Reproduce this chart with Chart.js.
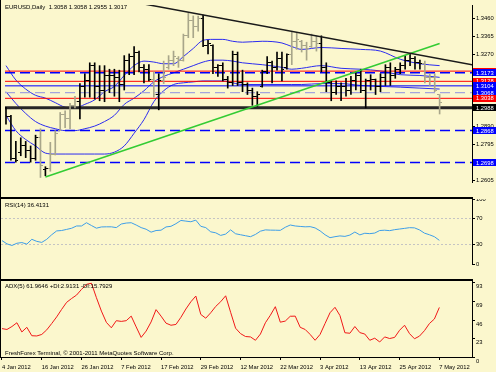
<!DOCTYPE html>
<html>
<head>
<meta charset="utf-8">
<script src="https://cdn.jsdelivr.net/npm/chart.js@4.4.1/dist/chart.umd.min.js"></script>
<style>
html, body { margin: 0; padding: 0; background: #fbf7cd; }
#wrap { position: relative; width: 496px; height: 372px; background: #fbf7cd; overflow: hidden; font-family: "Liberation Sans", Arial, sans-serif; }
canvas { position: absolute; left: 0; }
.t { position: absolute; font-size: 6px; line-height: 6px; color: #000; white-space: pre; }
.ln { position: absolute; background: #000; }
</style>
</head>
<body>
<div id="wrap">
  <canvas id="price" width="496" height="197" style="top:0"></canvas>
  <canvas id="rsi" width="496" height="80" style="top:199px"></canvas>
  <canvas id="adx" width="496" height="91" style="top:281px"></canvas>
  <div class="ln" style="left:0;top:0;width:1px;height:358px"></div>
  <div class="ln" style="left:0;top:197px;width:473px;height:2px"></div>
  <div class="ln" style="left:0;top:279px;width:473px;height:2px"></div>
  <div class="t" style="left:5px;top:4px">EURUSD,Daily  1.3058 1.3058 1.2955 1.3017</div>
  <div class="t" style="left:5px;top:202px">RSI(14) 36.4131</div>
  <div class="t" style="left:5px;top:283px">ADX(5) 61.9646 +DI:2.9131 -DI:15.7929</div>
  <div class="t" style="left:5px;top:350px">FreshForex Terminal, © 2001-2011 MetaQuotes Software Corp.</div>
</div>
<script>
// daily bars, 4 Jan 2012 .. 7 May 2012
const opens = [1.2985,1.2940,1.2720,1.2750,1.2790,1.2760,1.2720,1.2830,1.2660,1.2665,
  1.2740,1.2870,1.2950,1.2930,1.3000,1.3020,1.3100,1.3130,1.3210,1.3100,
  1.3080,1.3160,1.3160,1.3150,1.3110,1.3240,1.3260,1.3280,1.3200,1.3190,
  1.3140,1.3060,1.3130,1.3200,1.3240,1.3250,1.3240,1.3370,1.3450,1.3420,
  1.3460,1.3320,1.3320,1.3200,1.3210,1.3140,1.3120,1.3270,1.3120,1.3110,
  1.3080,1.3050,1.3100,1.3180,1.3230,1.3200,1.3250,1.3200,1.3270,1.3340,
  1.3340,1.3320,1.3310,1.3340,1.3330,1.3200,1.3120,1.3070,1.3100,1.3100,
  1.3080,1.3130,1.3160,1.3080,1.3130,1.3140,1.3100,1.3150,1.3200,1.3160,
  1.3190,1.3210,1.3240,1.3250,1.3230,1.3220,1.3150,1.3150,1.3058];
const highs = [1.2990,1.2948,1.2810,1.2829,1.2810,1.2786,1.2843,1.2877,1.2676,1.2805,
  1.2867,1.2963,1.2972,1.3011,1.3049,1.3116,1.3168,1.3226,1.3226,1.3211,
  1.3211,1.3192,1.3192,1.3187,1.3264,1.3273,1.3312,1.3288,1.3216,1.3216,
  1.3178,1.3168,1.3235,1.3264,1.3288,1.3259,1.3378,1.3488,1.3474,1.3474,
  1.3479,1.3345,1.3321,1.3216,1.3226,1.3154,1.3288,1.3283,1.3187,1.3120,
  1.3092,1.3073,1.3187,1.3259,1.3235,1.3283,1.3283,1.3273,1.3393,1.3383,
  1.3345,1.3335,1.3378,1.3369,1.3369,1.3226,1.3130,1.3130,1.3120,1.3144,
  1.3154,1.3178,1.3192,1.3140,1.3163,1.3140,1.3168,1.3216,1.3226,1.3202,
  1.3226,1.3264,1.3273,1.3259,1.3240,1.3235,1.3168,1.3168,1.3058];
const lows = [1.2901,1.2710,1.2700,1.2734,1.2724,1.2700,1.2710,1.2619,1.2628,1.2652,
  1.2738,1.2867,1.2882,1.2877,1.2987,1.2929,1.3044,1.3044,1.3034,1.3025,
  1.3020,1.3068,1.3049,1.3020,1.3082,1.3163,1.3163,1.3178,1.3120,1.3130,
  1.3044,1.2977,1.3116,1.3192,1.3211,1.3202,1.3235,1.3359,1.3359,1.3393,
  1.3312,1.3273,1.3168,1.3154,1.3130,1.3092,1.3106,1.3106,1.3073,1.3058,
  1.3001,1.2996,1.3097,1.3168,1.3120,1.3187,1.3130,1.3192,1.3216,1.3297,
  1.3283,1.3240,1.3307,1.3288,1.3178,1.3073,1.3025,1.3058,1.3025,1.3049,
  1.3058,1.3082,1.3068,1.2987,1.3082,1.3058,1.3073,1.3106,1.3106,1.3144,
  1.3168,1.3192,1.3211,1.3192,1.3192,1.3120,1.3106,1.3073,1.2955];
const closes = [1.2940,1.2720,1.2710,1.2790,1.2760,1.2720,1.2830,1.2680,1.2665,1.2740,
  1.2850,1.2950,1.2930,1.3000,1.3020,1.3100,1.3130,1.3210,1.3100,1.3080,
  1.3160,1.3160,1.3150,1.3110,1.3240,1.3260,1.3280,1.3200,1.3190,1.3140,
  1.3060,1.3130,1.3150,1.3240,1.3260,1.3240,1.3370,1.3450,1.3420,1.3460,
  1.3320,1.3330,1.3200,1.3210,1.3140,1.3120,1.3270,1.3120,1.3110,1.3080,
  1.3050,1.3060,1.3180,1.3230,1.3200,1.3250,1.3190,1.3270,1.3340,1.3350,
  1.3320,1.3300,1.3340,1.3330,1.3200,1.3120,1.3070,1.3100,1.3100,1.3080,
  1.3130,1.3160,1.3080,1.3130,1.3140,1.3100,1.3150,1.3200,1.3160,1.3190,
  1.3210,1.3240,1.3250,1.3230,1.3220,1.3150,1.3150,1.3080,1.3017];

// bollinger bands read at these bar numbers
const bandIdx = [0,2,4,6,8,10,12,14,16,18,20,22,24,26,28,30,32,34,36,38,40,42,44,46,48,52,56,58,60,64,68,72,76,80,84,88];
const bandUpper = [1.3211,1.3135,1.3087,1.3054,1.3039,1.3015,1.2991,1.2987,1.3006,1.3030,1.3073,1.3101,1.3159,1.3211,1.3235,1.3230,1.3221,1.3221,
  1.3259,1.3302,1.3345,1.3350,1.3350,1.3340,1.3335,1.3340,1.3331,1.3312,1.3297,1.3307,1.3302,1.3297,1.3288,1.3245,1.3221,1.3211];
const bandMid = [1.3073,1.3011,1.2958,1.2915,1.2891,1.2877,1.2867,1.2867,1.2877,1.2891,1.2915,1.2948,1.3006,1.3039,1.3078,1.3125,1.3154,1.3173,
  1.3192,1.3211,1.3230,1.3240,1.3240,1.3235,1.3226,1.3216,1.3202,1.3192,1.3197,1.3211,1.3197,1.3192,1.3183,1.3163,1.3159,1.3149];
const bandLower = [1.2948,1.2867,1.2820,1.2786,1.2748,1.2743,1.2743,1.2743,1.2743,1.2743,1.2743,1.2753,1.2786,1.2853,1.2925,1.3020,1.3078,1.3111,
  1.3120,1.3125,1.3130,1.3130,1.3130,1.3120,1.3111,1.3111,1.3111,1.3111,1.3111,1.3116,1.3116,1.3106,1.3101,1.3097,1.3092,1.3087];

// horizontal levels and trend lines (bar number, price)
const levelValues = [1.3182, 1.3173, 1.3128, 1.3104, 1.3068, 1.3038, 1.2988, 1.2868, 1.2698];
const trendDownIdx = [20, 94.6];
const trendDown = [1.3576, 1.3216];
const trendUpIdx = [8, 88];
const trendUp = [1.2622, 1.3328];

const rsi = [36,31,28.5,31.9,33,30.6,38,34.8,33.2,38,
  45,50.9,51.5,53.2,55,58.5,58.5,63.5,59.2,55.1,
  57,57.2,57.2,56,61.5,63,63.5,60,56,53.5,
  49,51.5,52,57,58,62,67,66,65,67.5,
  58,56,49.5,48,44,46,52.5,46.5,45,43.5,
  42,45.5,50.5,52.5,52.1,52,51.8,56.5,60,58.5,
  57.8,57.2,57.5,55.5,51,45,40.5,42,43.2,42.5,
  44.5,49.2,44.8,47.3,46.7,47.6,51.5,52,51.3,52.8,
  53.8,54.8,55.9,55.6,52.5,47.5,45,42,36.41];
const rsiLevels = [70, 30];
const adx = [35.5,34.4,38.1,42.8,31.3,37.1,26.6,26.3,28.2,33.9,
  41.8,50.1,59.5,68.3,73.1,77.4,84.5,90.8,92.2,74.1,
  57.4,43.3,36.5,45.4,44.5,45.4,51.1,37.6,24.5,32.4,
  43.8,59.2,51.1,42.3,39.7,40.7,49.6,60,69,76.2,
  53.2,48.5,55.3,63.2,69.1,76.5,55.9,36,29.2,25.6,
  25.1,20.9,28.7,42.8,52.2,62.9,43.5,44.9,50.9,51.1,
  37.1,34.4,28.2,20.9,28.2,41.8,55.3,62.1,51.8,30.3,
  29.7,38.1,30.5,28.7,20.9,23.5,18.8,25.1,23.1,24.5,
  33.4,39.7,29.2,22.8,26.1,32.9,41.8,47.5,61.96];

const priceTicks = [1.3460,1.3365,1.3270,1.3175,1.3080,1.2985,1.2890,1.2795,1.2700,1.2605];
const rsiTicks = [100, 70, 30, 0];
const adxTicks = [93, 69, 46, 23, 0];
const dateBars = [0,8,16,24,32,40,48,56,64,72,80,88];
const dates = ['4 Jan 2012','16 Jan 2012','26 Jan 2012','7 Feb 2012','17 Feb 2012','29 Feb 2012',
  '12 Mar 2012','22 Mar 2012','3 Apr 2012','13 Apr 2012','25 Apr 2012','7 May 2012'];

// styles
const grayBars = [7,9,10,11,12,13,14,30,32,33,34,35,36,37,38,39,58,59,60,61,62,63,85,86,87,88];
const levelColors = ['#ff0000','#0000ff','#ff0000','#0000ff','#a4a4dc','#ff0000','#262626','#0000ff','#0000ff'];
const levelWidths = [1, 1.4, 1, 1, 1.4, 1, 3, 1.4, 1.4];
const levelDash = [[], [10,5], [], [], [10,5], [], [], [10,5], [10,5]];
const boxColors = ['#ff0000','#0000ff','#ff0000','#0000ff','#0000ff','#ff0000','#000000','#0000ff','#0000ff'];
const BLACK = '#000000', GRAY = '#a8a68a';
const FONT = { family: '"Liberation Sans", Arial, sans-serif', size: 5.8 };
const X_MIN = -0.2, X_MAX = 94.57;

Chart.defaults.color = '#000';

const barIdx = opens.map((_, i) => i);

function tickImg(color, left) {
  const c = document.createElement('canvas');
  c.width = 5; c.height = 1;
  const g = c.getContext('2d');
  g.fillStyle = color;
  g.fillRect(left ? 0 : 3, 0, 2, 1);
  return c;
}
const openK = tickImg(BLACK, true), openG = tickImg(GRAY, true);
const closeK = tickImg(BLACK, false), closeG = tickImg(GRAY, false);

function xAxis(show) {
  return {
    type: 'linear', min: X_MIN, max: X_MAX, display: show, offset: false,
    afterBuildTicks: s => { s.ticks = dateBars.map(v => ({ value: v })); },
    afterFit: s => { s.paddingLeft = 0; s.paddingRight = 0; s.height = 15; },
    ticks: { autoSkip: false, maxRotation: 0, minRotation: 0, align: 'start', padding: 4, font: FONT,
      callback: (v, i) => dates[i] },
    grid: { drawOnChartArea: false, drawTicks: true, tickLength: 3, color: '#000', offset: false },
    border: { display: true, color: '#000' }
  };
}

function yAxis(min, max, tickList, fmt, shift) {
  return {
    type: 'linear', position: 'right', min: min, max: max, beginAtZero: false,
    afterBuildTicks: s => { s.ticks = tickList.map(v => ({ value: v })); },
    afterFit: s => { s.width = 24; s.paddingTop = 0; s.paddingBottom = 0; },
    ticks: { padding: 1, font: FONT, labelOffset: shift, callback: fmt },
    grid: { drawOnChartArea: false, drawTicks: true, tickLength: 3, color: '#000' },
    border: { display: true, color: '#000' }
  };
}

const common = {
  responsive: false, animation: false, events: [],
  plugins: { legend: { display: false }, tooltip: { enabled: false } }
};

// price boxes on the right axis
const boxPlugin = {
  id: 'boxes',
  afterDraw(chart) {
    const ctx = chart.ctx, ys = chart.scales.y, ca = chart.chartArea;
    ctx.save();
    ctx.font = '5.8px "Liberation Sans", Arial, sans-serif';
    ctx.textBaseline = 'middle';
    levelValues.forEach((v, k) => {
      const py = ys.getPixelForValue(v);
      ctx.fillStyle = boxColors[k];
      ctx.fillRect(ca.right + 1, Math.round(py - 3.5), 496 - ca.right - 1, 7);
      ctx.fillStyle = '#fff';
      ctx.fillText(v.toFixed(4), ca.right + 4, py + 0.5);
    });
    ctx.restore();
  }
};

const priceSets = [];
[bandUpper, bandMid, bandLower].forEach(arr => {
  priceSets.push({ type: 'line', data: arr.map((v, j) => ({ x: bandIdx[j], y: v })),
    borderColor: '#2b2bf0', borderWidth: 1, pointRadius: 0, cubicInterpolationMode: 'monotone', order: 6 });
});
levelValues.forEach((v, k) => {
  priceSets.push({ type: 'line', data: [{ x: X_MIN, y: v }, { x: X_MAX, y: v }],
    borderColor: levelColors[k], borderWidth: levelWidths[k], borderDash: levelDash[k], pointRadius: 0, order: 5 });
});
priceSets.push({ type: 'bar', data: barIdx.map(i => ({ x: i, y: [lows[i], highs[i]] })),
  backgroundColor: barIdx.map(i => grayBars.includes(i) ? GRAY : BLACK),
  barThickness: 1, borderWidth: 0, order: 4 });
priceSets.push({ type: 'line', showLine: false, data: barIdx.map(i => ({ x: i, y: opens[i] })),
  pointStyle: c => grayBars.includes(c.dataIndex) ? openG : openK, pointRadius: 2, order: 3 });
priceSets.push({ type: 'line', showLine: false, data: barIdx.map(i => ({ x: i, y: closes[i] })),
  pointStyle: c => grayBars.includes(c.dataIndex) ? closeG : closeK, pointRadius: 2, order: 3 });
priceSets.push({ type: 'line', data: trendDownIdx.map((x, j) => ({ x: x, y: trendDown[j] })),
  borderColor: '#1a1a1a', borderWidth: 1.5, pointRadius: 0, order: 1 });
priceSets.push({ type: 'line', data: trendUpIdx.map((x, j) => ({ x: x, y: trendUp[j] })),
  borderColor: '#33cc33', borderWidth: 1.6, pointRadius: 0, order: 1 });

new Chart(document.getElementById('price'), {
  type: 'bar',
  data: { datasets: priceSets },
  options: Object.assign({}, common, {
    layout: { padding: { left: 1, top: 1, right: 0, bottom: 0 } },
    scales: { x: xAxis(false), y: yAxis(1.2595, 1.3532, priceTicks, v => v.toFixed(4), 0) }
  }),
  plugins: [boxPlugin]
});

const rsiSets = [{ type: 'line', data: barIdx.map(i => ({ x: i, y: rsi[i] })),
  borderColor: '#3d9ee8', borderWidth: 1, pointRadius: 0, order: 1 }];
rsiLevels.forEach(v => {
  rsiSets.push({ type: 'line', data: [{ x: X_MIN, y: v }, { x: X_MAX, y: v }],
    borderColor: '#c4c4c4', borderWidth: 1, borderDash: [2, 2], pointRadius: 0, order: 2 });
});

new Chart(document.getElementById('rsi'), {
  type: 'line',
  data: { datasets: rsiSets },
  options: Object.assign({}, common, {
    layout: { padding: { left: 1, top: 0, right: 0, bottom: 0 } },
    scales: { x: xAxis(false), y: yAxis(0, 100, rsiTicks, v => String(v), 0) }
  })
});

new Chart(document.getElementById('adx'), {
  type: 'line',
  data: { datasets: [{ data: barIdx.map(i => ({ x: i, y: adx[i] })),
    borderColor: '#f01818', borderWidth: 1, pointRadius: 0 }] },
  options: Object.assign({}, common, {
    layout: { padding: { left: 1, top: 0, right: 0, bottom: 0 } },
    scales: { x: xAxis(true), y: yAxis(0, 95, adxTicks, v => String(v), 4) }
  })
});
</script>
</body>
</html>
